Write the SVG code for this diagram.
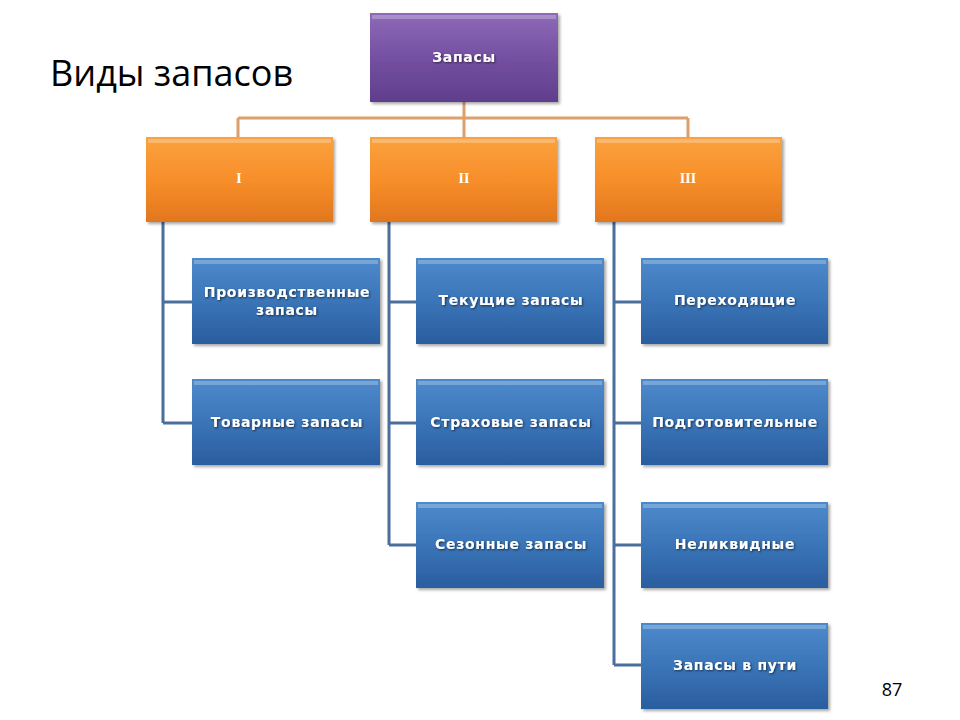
<svg xmlns="http://www.w3.org/2000/svg" width="960" height="720" viewBox="0 0 960 720">
<defs>
<linearGradient id="gP" x1="0" y1="0" x2="0" y2="1"><stop offset="0" stop-color="#8e6ab8"/><stop offset="0.5" stop-color="#7550a2"/><stop offset="1" stop-color="#5f3e8c"/></linearGradient>
<linearGradient id="gO" x1="0" y1="0" x2="0" y2="1"><stop offset="0" stop-color="#fba13f"/><stop offset="0.5" stop-color="#f78f2a"/><stop offset="1" stop-color="#e2761e"/></linearGradient>
<linearGradient id="gB" x1="0" y1="0" x2="0" y2="1"><stop offset="0" stop-color="#4d8acb"/><stop offset="0.5" stop-color="#3a75b8"/><stop offset="1" stop-color="#2a5d9f"/></linearGradient>
<filter id="sh" x="-10%" y="-10%" width="125%" height="130%"><feDropShadow dx="2" dy="2" stdDeviation="1.5" flood-color="#000" flood-opacity="0.35"/></filter>
<filter id="ts" x="-10%" y="-30%" width="120%" height="160%"><feDropShadow dx="1" dy="1" stdDeviation="0.8" flood-color="#000" flood-opacity="0.6"/></filter>
</defs>
<style>
.t{font-family:"DejaVu Sans","Liberation Sans",sans-serif;font-weight:bold;font-size:14px;letter-spacing:0.7px;fill:#fff;text-anchor:middle;filter:url(#ts)}
.r{font-family:"Liberation Serif",serif;font-weight:bold;font-size:14px;fill:#fff;text-anchor:middle}
.ol{stroke:#dc9f6e;stroke-width:3;fill:none}
.bl{stroke:#4b6e9e;stroke-width:3;fill:none}
.hl{fill:#fff;opacity:0.25}
</style>
<rect width="960" height="720" fill="#fff"/>
<text x="50" y="86" font-family="Open Sans, Liberation Sans, sans-serif" font-size="36" fill="#000">Виды запасов</text>
<text x="892" y="696" font-family="Open Sans, Liberation Sans, sans-serif" font-size="18" fill="#000" text-anchor="middle">87</text>
<g id="connectors">
<path class="ol" d="M464 102V137M238 118H688M238 118V137M688 118V137"/>
<path class="bl" d="M163 222V423M163 302H192M163 423H192"/>
<path class="bl" d="M389 222V545M389 302H416M389 423H416M389 545H416"/>
<path class="bl" d="M614 222V665M614 302H641M614 423H641M614 545H641M614 665H641"/>
</g>
<g id="root"><rect x="370" y="13" width="188" height="89" fill="url(#gP)" filter="url(#sh)"/><rect x="372" y="15" width="184" height="4" class="hl"/><text class="t" x="464" y="62">Запасы</text></g>
<g id="n1"><rect x="146" y="137" width="187" height="85" fill="url(#gO)" filter="url(#sh)"/><rect x="148" y="139" width="183" height="4" class="hl"/><text class="r" x="239" y="183">I</text></g>
<g id="n2"><rect x="370" y="137" width="187" height="85" fill="url(#gO)" filter="url(#sh)"/><rect x="372" y="139" width="183" height="4" class="hl"/><text class="r" x="464" y="183">II</text></g>
<g id="n3"><rect x="595" y="137" width="187" height="85" fill="url(#gO)" filter="url(#sh)"/><rect x="597" y="139" width="183" height="4" class="hl"/><text class="r" x="688" y="183">III</text></g>
<g id="b11"><rect x="192" y="258" width="188" height="86" fill="url(#gB)" filter="url(#sh)"/><rect x="194" y="260" width="184" height="4" class="hl"/><text class="t" x="287" y="297">Производственные</text><text class="t" x="287" y="315">запасы</text></g>
<g id="b12"><rect x="192" y="379" width="188" height="86" fill="url(#gB)" filter="url(#sh)"/><rect x="194" y="381" width="184" height="4" class="hl"/><text class="t" x="287" y="427">Товарные запасы</text></g>
<g id="b21"><rect x="416" y="258" width="188" height="86" fill="url(#gB)" filter="url(#sh)"/><rect x="418" y="260" width="184" height="4" class="hl"/><text class="t" x="511" y="305">Текущие запасы</text></g>
<g id="b22"><rect x="416" y="379" width="188" height="86" fill="url(#gB)" filter="url(#sh)"/><rect x="418" y="381" width="184" height="4" class="hl"/><text class="t" x="511" y="427">Страховые запасы</text></g>
<g id="b23"><rect x="416" y="502" width="188" height="86" fill="url(#gB)" filter="url(#sh)"/><rect x="418" y="504" width="184" height="4" class="hl"/><text class="t" x="511" y="549">Сезонные запасы</text></g>
<g id="b31"><rect x="641" y="258" width="187" height="86" fill="url(#gB)" filter="url(#sh)"/><rect x="643" y="260" width="183" height="4" class="hl"/><text class="t" x="735" y="305">Переходящие</text></g>
<g id="b32"><rect x="641" y="379" width="187" height="86" fill="url(#gB)" filter="url(#sh)"/><rect x="643" y="381" width="183" height="4" class="hl"/><text class="t" x="735" y="427">Подготовительные</text></g>
<g id="b33"><rect x="641" y="502" width="187" height="86" fill="url(#gB)" filter="url(#sh)"/><rect x="643" y="504" width="183" height="4" class="hl"/><text class="t" x="735" y="549">Неликвидные</text></g>
<g id="b34"><rect x="641" y="623" width="187" height="86" fill="url(#gB)" filter="url(#sh)"/><rect x="643" y="625" width="183" height="4" class="hl"/><text class="t" x="735" y="670">Запасы в пути</text></g>
</svg>
